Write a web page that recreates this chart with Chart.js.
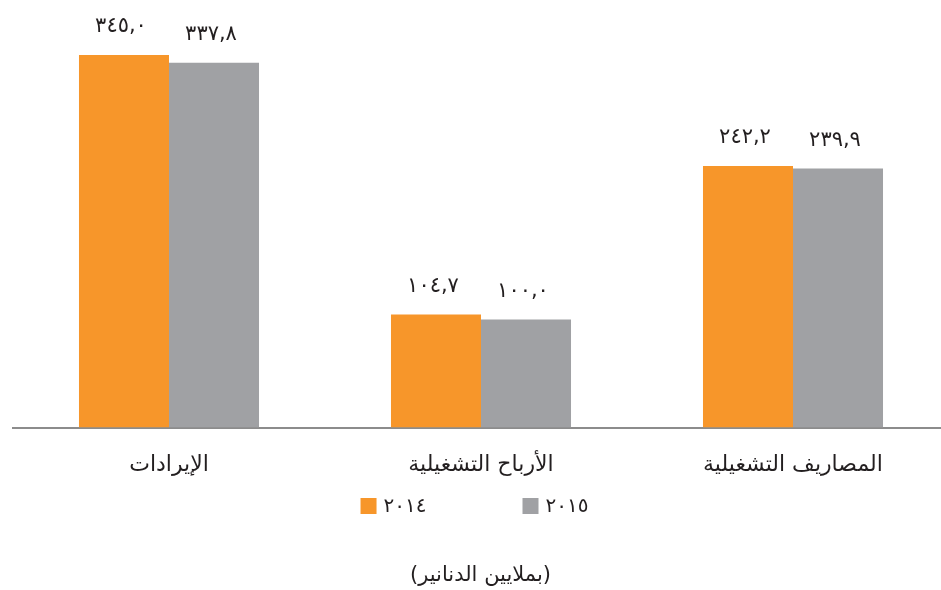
<!DOCTYPE html>
<html lang="ar">
<head>
<meta charset="utf-8">
<script src="https://cdn.jsdelivr.net/npm/chart.js@4/dist/chart.umd.min.js"></script>
<style>
  html, body { margin: 0; padding: 0; background: #fff; overflow: hidden; }
</style>
</head>
<body>
<canvas id="chart" width="949" height="590"></canvas>
<script>
// Daten
const kategorien = ['الإيرادات', 'الأرباح التشغيلية', 'المصاريف التشغيلية'];
const werte2014 = [345.0, 104.7, 242.2];
const werte2015 = [337.8, 100.0, 239.9];
const jahre = ['٢٠١٤', '٢٠١٥'];
const einheit = '(بملايين الدنانير)';

const ORANGE = '#f7962a';
const GRAU = '#a0a1a4';
const TEXT = '#231f20';
const SCHRIFT = '"DejaVu Sans", sans-serif';

// Zahl in arabisch-indische Ziffern umwandeln
function arabischeZahl(wert) {
    const ziffern = '٠١٢٣٤٥٦٧٨٩';
    return wert.toFixed(1).replace('.', ',').replace(/[0-9]/g, d => ziffern[d]);
}

// Werte ueber den Balken
const wertePlugin = {
    id: 'werte',
    afterDatasetsDraw(chart) {
        const ctx = chart.ctx;
        ctx.save();
        ctx.font = '21px ' + SCHRIFT;
        ctx.fillStyle = TEXT;
        ctx.textAlign = 'center';
        ctx.textBaseline = 'alphabetic';
        chart.data.datasets.forEach((ds, i) => {
            chart.getDatasetMeta(i).data.forEach((bar, j) => {
                ctx.fillText(arabischeZahl(ds.data[j]), bar.x - 3, bar.y - 23);
            });
        });
        ctx.restore();
    }
};

// Legende und Einheit unten
const legendePlugin = {
    id: 'legendeUnten',
    afterDraw(chart) {
        const ctx = chart.ctx;
        const mitte = chart.width / 2;
        const y = 506;
        const box = 16;
        const abstand = 7;
        const luecke = 96;
        ctx.save();
        ctx.font = '20px ' + SCHRIFT;
        ctx.textBaseline = 'middle';
        ctx.textAlign = 'left';
        const breiten = chart.data.datasets.map(ds => box + abstand + ctx.measureText(ds.label).width);
        const gesamt = breiten.reduce((a, b) => a + b, 0) + luecke * (breiten.length - 1);
        let x = mitte - gesamt / 2;
        chart.data.datasets.forEach((ds, i) => {
            ctx.fillStyle = ds.backgroundColor;
            ctx.fillRect(x, y - box / 2, box, box);
            ctx.fillStyle = TEXT;
            ctx.fillText(ds.label, x + box + abstand, y + 1);
            x += breiten[i] + luecke;
        });
        ctx.textAlign = 'center';
        ctx.font = '21px ' + SCHRIFT;
        ctx.fillText(einheit, mitte + 6, 576);
        ctx.restore();
    }
};

new Chart(document.getElementById('chart'), {
    type: 'bar',
    data: {
        labels: kategorien,
        datasets: [
            { label: jahre[0], data: werte2014, backgroundColor: ORANGE },
            { label: jahre[1], data: werte2015, backgroundColor: GRAU }
        ]
    },
    options: {
        responsive: false,
        animation: false,
        devicePixelRatio: 1,
        layout: { padding: { left: 13, right: 0, top: 0, bottom: 96 } },
        datasets: {
            bar: { barPercentage: 1, categoryPercentage: 0.577 }
        },
        plugins: {
            legend: { display: false },
            tooltip: { enabled: false }
        },
        scales: {
            x: {
                grid: { display: false },
                border: { display: true, color: '#8c8c8c', width: 2 },
                ticks: {
                    color: TEXT,
                    padding: 16,
                    font: { family: SCHRIFT, size: 22 }
                }
            },
            y: {
                display: false,
                min: 0,
                max: 396
            }
        }
    },
    plugins: [wertePlugin, legendePlugin]
});
</script>
</body>
</html>
